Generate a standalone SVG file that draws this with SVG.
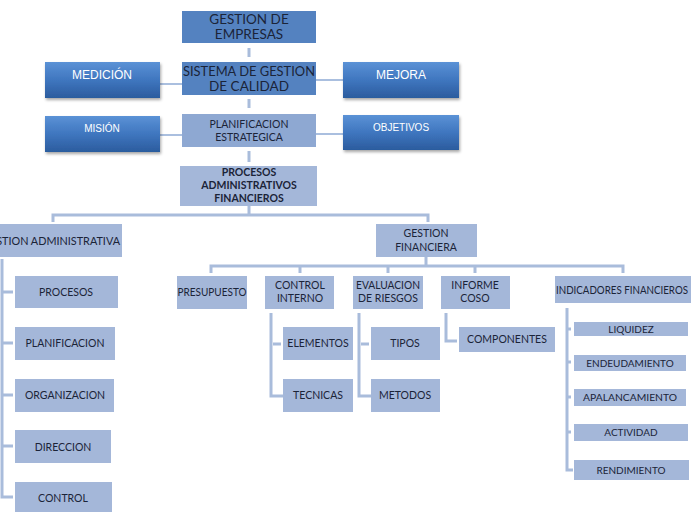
<svg xmlns="http://www.w3.org/2000/svg" width="691" height="512" viewBox="0 0 691 512">
<defs>
<linearGradient id="gBlue" x1="0" y1="0" x2="0" y2="1">
<stop offset="0" stop-color="#5b92d6"/>
<stop offset="0.5" stop-color="#3f76bf"/>
<stop offset="1" stop-color="#2b5c9e"/>
</linearGradient>
<filter id="sh" x="-10%" y="-20%" width="125%" height="150%">
<feDropShadow dx="1" dy="2" stdDeviation="1.5" flood-color="#000" flood-opacity="0.35"/>
</filter>
</defs>
<style>
.dark{fill:#5482c0;}
.mid{fill:#8ea8d2;}
.lite{fill:#a4b7d9;}
.side{fill:url(#gBlue);filter:url(#sh);}
.t{font-family:Lato,"Liberation Sans",sans-serif;fill:#1b2438;text-anchor:middle;}
.ts{font-family:"Liberation Sans",Arial,sans-serif;fill:#ffffff;text-anchor:middle;}
.b{font-weight:bold;}
.ln{stroke:#a9bcdb;stroke-width:3;fill:none;}
.ls{stroke:#8eaad4;stroke-width:1.5;fill:none;}
</style>
<rect width="691" height="512" fill="#ffffff"/>
<g id="connectors">
<line class="ls" x1="160" y1="84" x2="182" y2="84"/>
<line class="ls" x1="316" y1="80" x2="343" y2="80"/>
<line class="ls" x1="160" y1="135" x2="182" y2="135"/>
<line class="ls" x1="316" y1="134" x2="343" y2="134"/>
<line class="ln" x1="249" y1="48" x2="249" y2="57"/>
<line class="ln" x1="249" y1="99" x2="249" y2="108"/>
<line class="ln" x1="249" y1="151" x2="249" y2="162"/>
<path class="ln" d="M249 206 V215 M53 222 V215 H428 V222"/>
<path class="ln" d="M426 257 V266 M211 273 V266 H623 V273 M300 266 V273 M388 266 V273 M475 266 V273"/>
<path class="ln" d="M2 259 V497 H13 M2 292 H13 M2 343 H13 M2 395 H13 M2 446 H13"/>
<path class="ln" d="M271 313 V396 H283 M273 344 H281"/>
<path class="ln" d="M359 313 V396 H371 M361 344 H369"/>
<path class="ln" d="M446 313 V341 H457"/>
<path class="ln" d="M567 308 V470 H573 M567 329 H571 M567 362 H571 M567 397 H571 M567 432 H571"/>
</g>
<g id="gestion-empresas">
<rect class="dark" x="182" y="11" width="134" height="32"/>
<text class="t" x="249" y="24" font-size="13.5">GESTION DE</text>
<text class="t" x="249" y="39" font-size="13.5">EMPRESAS</text>
</g>
<g id="sistema-gestion">
<rect class="dark" x="182" y="62" width="134" height="33"/>
<text class="t" x="249" y="76" font-size="13.5" textLength="132" lengthAdjust="spacingAndGlyphs">SISTEMA DE GESTION</text>
<text class="t" x="249" y="91" font-size="13.5">DE CALIDAD</text>
</g>
<g id="medicion">
<rect class="side" x="45" y="62" width="115" height="36"/>
<text class="ts" x="102" y="79" font-size="12">MEDICIÓN</text>
</g>
<g id="mejora">
<rect class="side" x="343" y="62" width="116" height="36"/>
<text class="ts" x="401" y="79" font-size="12">MEJORA</text>
</g>
<g id="planificacion-estrategica">
<rect class="mid" x="182" y="114" width="134" height="33"/>
<text class="t" x="249" y="128" font-size="10.5">PLANIFICACION</text>
<text class="t" x="249" y="141" font-size="10.5">ESTRATEGICA</text>
</g>
<g id="mision">
<rect class="side" x="45" y="116" width="115" height="36"/>
<text class="ts" x="102" y="132" font-size="10">MISIÓN</text>
</g>
<g id="objetivos">
<rect class="side" x="343" y="115" width="116" height="35"/>
<text class="ts" x="401" y="131" font-size="10">OBJETIVOS</text>
</g>
<g id="procesos-admin-fin">
<rect class="lite" x="180" y="166" width="137" height="40"/>
<text class="t b" x="249" y="176" font-size="10.5">PROCESOS</text>
<text class="t b" x="249" y="189" font-size="10.5">ADMINISTRATIVOS</text>
<text class="t b" x="249" y="202" font-size="10.5">FINANCIEROS</text>
</g>
<g id="gestion-administrativa">
<rect class="lite" x="-20" y="224" width="142" height="33"/>
<text class="t" x="51" y="245" font-size="11" textLength="138" lengthAdjust="spacingAndGlyphs">GESTION ADMINISTRATIVA</text>
</g>
<g id="procesos">
<rect class="lite" x="15" y="276" width="103" height="32"/>
<text class="t" x="66" y="296" font-size="10.5">PROCESOS</text>
</g>
<g id="planificacion">
<rect class="lite" x="15" y="327" width="100" height="33"/>
<text class="t" x="65" y="347" font-size="10.5">PLANIFICACION</text>
</g>
<g id="organizacion">
<rect class="lite" x="15" y="379" width="99" height="33"/>
<text class="t" x="65" y="399" font-size="10.5">ORGANIZACION</text>
</g>
<g id="direccion">
<rect class="lite" x="15" y="430" width="96" height="33"/>
<text class="t" x="63" y="451" font-size="10.5">DIRECCION</text>
</g>
<g id="control">
<rect class="lite" x="15" y="482" width="97" height="32"/>
<text class="t" x="63" y="502" font-size="10.5">CONTROL</text>
</g>
<g id="gestion-financiera">
<rect class="lite" x="376" y="224" width="101" height="33"/>
<text class="t" x="426" y="237" font-size="10.5">GESTION</text>
<text class="t" x="426" y="251" font-size="10.5">FINANCIERA</text>
</g>
<g id="presupuesto">
<rect class="lite" x="177" y="276" width="70" height="33"/>
<text class="t" x="212" y="296" font-size="10.5" textLength="69" lengthAdjust="spacingAndGlyphs">PRESUPUESTO</text>
</g>
<g id="control-interno">
<rect class="lite" x="265" y="276" width="69" height="33"/>
<text class="t" x="300" y="289" font-size="10.5">CONTROL</text>
<text class="t" x="300" y="302" font-size="10.5">INTERNO</text>
</g>
<g id="evaluacion-riesgos">
<rect class="lite" x="353" y="276" width="70" height="33"/>
<text class="t" x="388" y="289" font-size="10.5" textLength="64" lengthAdjust="spacingAndGlyphs">EVALUACION</text>
<text class="t" x="388" y="302" font-size="10.5">DE RIESGOS</text>
</g>
<g id="informe-coso">
<rect class="lite" x="441" y="276" width="69" height="33"/>
<text class="t" x="475" y="289" font-size="10.5">INFORME</text>
<text class="t" x="475" y="302" font-size="10.5">COSO</text>
</g>
<g id="indicadores-financieros">
<rect class="lite" x="555" y="276" width="136" height="27"/>
<text class="t" x="622" y="294" font-size="11" textLength="132" lengthAdjust="spacingAndGlyphs">INDICADORES FINANCIEROS</text>
</g>
<g id="elementos">
<rect class="lite" x="283" y="327" width="70" height="33"/>
<text class="t" x="318" y="347" font-size="10.5">ELEMENTOS</text>
</g>
<g id="tecnicas">
<rect class="lite" x="283" y="379" width="70" height="33"/>
<text class="t" x="318" y="399" font-size="10.5">TECNICAS</text>
</g>
<g id="tipos">
<rect class="lite" x="371" y="327" width="69" height="33"/>
<text class="t" x="405" y="347" font-size="10.5">TIPOS</text>
</g>
<g id="metodos">
<rect class="lite" x="371" y="379" width="69" height="33"/>
<text class="t" x="405" y="399" font-size="10.5">METODOS</text>
</g>
<g id="componentes">
<rect class="lite" x="459" y="327" width="96" height="25"/>
<text class="t" x="507" y="343" font-size="10.5">COMPONENTES</text>
</g>
<g id="liquidez">
<rect class="lite" x="574" y="322" width="114" height="14"/>
<text class="t" x="631" y="332.5" font-size="10">LIQUIDEZ</text>
</g>
<g id="endeudamiento">
<rect class="lite" x="574" y="355" width="112" height="16"/>
<text class="t" x="630" y="366.5" font-size="10">ENDEUDAMIENTO</text>
</g>
<g id="apalancamiento">
<rect class="lite" x="574" y="389" width="112" height="17"/>
<text class="t" x="630" y="401" font-size="10" textLength="94" lengthAdjust="spacingAndGlyphs">APALANCAMIENTO</text>
</g>
<g id="actividad">
<rect class="lite" x="574" y="424" width="114" height="17"/>
<text class="t" x="631" y="436" font-size="10">ACTIVIDAD</text>
</g>
<g id="rendimiento">
<rect class="lite" x="574" y="460" width="115" height="20"/>
<text class="t" x="631" y="474" font-size="10">RENDIMIENTO</text>
</g>
</svg>
